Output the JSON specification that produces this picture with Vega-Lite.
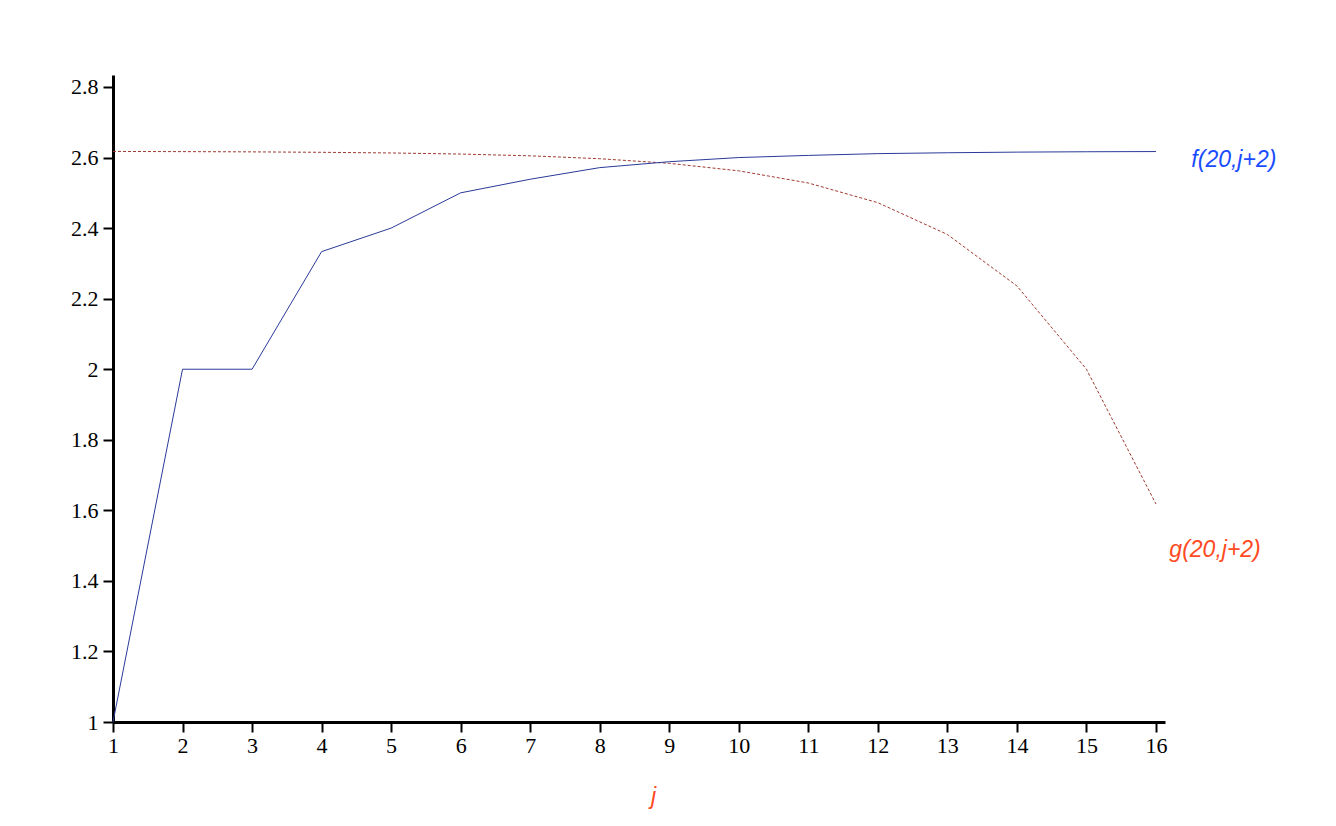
{
  "$schema": "https://vega.github.io/schema/vega-lite/v6.json",
  "width": 1052,
  "height": 647,
  "autosize": {"type": "none"},
  "padding": {"left": 113, "top": 75, "right": 171, "bottom": 104},
  "background": "white",
  "config": {
    "view": {"stroke": null},
    "axis": {
      "grid": false,
      "domainColor": "black",
      "domainWidth": 3,
      "tickColor": "black",
      "tickWidth": 2,
      "tickSize": 10,
      "labelFont": "Liberation Serif",
      "labelFontSize": 22,
      "labelColor": "black",
      "labelFlush": false,
      "labelOverlap": false,
      "format": "~g"
    }
  },
  "datasets": {
    "series": [
      {"j": 1, "f": 1.0, "g": 2.6173},
      {"j": 2, "f": 2.0, "g": 2.6168},
      {"j": 3, "f": 2.0, "g": 2.6161},
      {"j": 4, "f": 2.3333, "g": 2.6149},
      {"j": 5, "f": 2.4, "g": 2.6130},
      {"j": 6, "f": 2.5, "g": 2.6099},
      {"j": 7, "f": 2.5385, "g": 2.6049},
      {"j": 8, "f": 2.5714, "g": 2.5967},
      {"j": 9, "f": 2.5882, "g": 2.5836},
      {"j": 10, "f": 2.6, "g": 2.5623},
      {"j": 11, "f": 2.6061, "g": 2.5279},
      {"j": 12, "f": 2.6111, "g": 2.4721},
      {"j": 13, "f": 2.6136, "g": 2.3820},
      {"j": 14, "f": 2.6154, "g": 2.2361},
      {"j": 15, "f": 2.6164, "g": 2.0},
      {"j": 16, "f": 2.6170, "g": 1.6180}
    ],
    "labels": [
      {"j": 17.12, "v": 2.593, "name": "f(20,j+2)", "series": "f"},
      {"j": 16.85, "v": 1.4875, "name": "g(20,j+2)", "series": "g"}
    ]
  },
  "layer": [
    {
      "data": {"name": "series"},
      "mark": {"type": "line", "color": "#a03a30", "strokeWidth": 1, "strokeDash": [3, 2]},
      "encoding": {
        "x": {
          "field": "j", "type": "quantitative",
          "scale": {"domain": [1, 16.13], "nice": false, "zero": false},
          "axis": {
            "values": [1,2,3,4,5,6,7,8,9,10,11,12,13,14,15,16],
            "format": "d",
            "labelPadding": 3,
            "title": "j",
            "titleFont": "Liberation Sans",
            "titleFontStyle": "italic",
            "titleFontWeight": "normal",
            "titleFontSize": 23,
            "titleColor": "#ff4a22",
            "titleX": 540,
            "titleY": 81,
            "titleAlign": "center",
            "titleBaseline": "alphabetic"
          }
        },
        "y": {
          "field": "g", "type": "quantitative",
          "scale": {"domain": [1, 2.834], "nice": false, "zero": false},
          "axis": {
            "values": [1, 1.2, 1.4, 1.6, 1.8, 2, 2.2, 2.4, 2.6, 2.8],
            "format": "~g",
            "labelPadding": 5,
            "title": null
          }
        }
      }
    },
    {
      "data": {"name": "series"},
      "mark": {"type": "line", "color": "#2a3a9a", "strokeWidth": 1},
      "encoding": {
        "x": {"field": "j", "type": "quantitative"},
        "y": {"field": "f", "type": "quantitative"}
      }
    },
    {
      "data": {"name": "labels"},
      "mark": {"type": "text", "font": "Liberation Sans", "fontStyle": "italic", "fontSize": 23, "align": "center", "baseline": "middle"},
      "encoding": {
        "x": {"field": "j", "type": "quantitative"},
        "y": {"field": "v", "type": "quantitative"},
        "text": {"field": "name"},
        "color": {
          "field": "series", "type": "nominal",
          "scale": {"domain": ["f", "g"], "range": ["#1a4cff", "#ff4a22"]},
          "legend": null
        }
      }
    }
  ]
}
